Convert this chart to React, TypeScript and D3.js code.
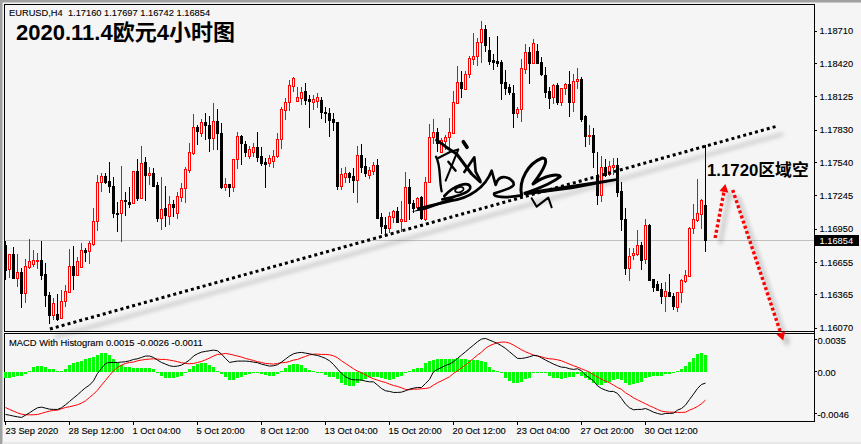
import React from "react";
import * as d3 from "d3";

const BASE_PRICE = 1.16; // candle arrays are in points (0.00001) above this price
const highPts = [846,728,787,728,600,680,858,763,733,846,645,393,339,372,408,452,772,799,704,822,778,846,1133,1430,1445,1445,1548,1415,1193,1510,1279,1320,1468,1569,1690,1587,1498,1489,1371,1409,1332,1243,1208,1282,1356,1504,1711,1973,1875,1928,1982,1955,2070,2017,1893,1404,1350,1573,1813,1786,1733,1688,1715,1813,1679,1582,1608,1653,1804,2035,2115,2275,2302,2213,2213,2248,2141,2141,2157,2126,2037,2028,1978,1901,1489,1498,1459,1489,1688,1705,1578,1498,1548,1572,1089,1059,1104,1119,1142,1199,1459,1394,1208,1237,1243,1415,1883,1925,1845,1756,1785,1933,2179,2399,2355,2355,2488,2696,2645,2799,2764,2660,2506,2666,2453,2364,2239,2230,2032,2458,2595,2565,2639,2595,2482,2393,2210,2239,2245,2201,2251,2355,2325,2378,2304,1964,1875,1845,1638,1599,1569,1558,1578,1578,1371,1134,778,778,941,838,1036,995,506,491,467,482,547,384,393,503,586,965,1172,1392,1214,1697];
const lowPts = [496,511,505,431,250,295,597,615,597,496,259,108,141,135,153,259,393,408,532,603,656,639,799,935,1282,1347,1267,1045,926,837,1065,1133,1169,1199,1222,1202,1341,1326,1015,941,965,985,1059,1039,1193,1184,1445,1608,1697,1768,1742,1635,1653,1653,1306,1288,1235,1279,1484,1519,1590,1573,1590,1546,1510,1315,1502,1493,1582,1662,1919,1999,2168,2079,2053,2053,1851,2008,2023,1925,1889,1771,1821,1296,1296,1362,1356,1273,1184,1445,1415,1391,1430,1050,905,882,917,1000,1006,926,1015,1030,1089,1133,1030,1024,1362,1705,1637,1622,1652,1658,1794,2067,2112,2192,2290,2408,2402,2429,2527,2408,2364,2387,2097,2141,2141,1851,1934,1904,2328,2239,2414,2423,2313,2118,2017,2061,2053,2047,2141,1949,1993,2192,1904,1682,1697,1489,1163,1193,1409,1421,1430,1237,935,541,491,675,710,586,639,497,393,402,283,215,349,230,215,295,467,520,906,1015,947,742];
const openPts = [808,591,728,517,568,384,615,642,668,674,547,363,182,194,156,307,393,618,544,609,766,751,816,1018,1365,1421,1373,1332,1092,1089,1208,1190,1178,1465,1228,1542,1433,1445,1341,1051,1136,1068,1169,1089,1237,1311,1477,1626,1857,1804,1902,1875,1759,1910,1804,1324,1350,1324,1573,1777,1706,1599,1635,1679,1599,1546,1537,1555,1599,1750,2008,2079,2222,2088,2115,2177,2103,2082,2091,2096,1993,1984,1925,1901,1332,1409,1445,1421,1385,1608,1510,1433,1468,1519,1053,985,962,1059,1110,1018,1024,1326,1178,1145,1231,1042,1371,1765,1812,1637,1732,1765,1806,2073,2254,2198,2325,2464,2491,2616,2725,2541,2453,2444,2432,2257,2210,2156,1984,2014,2373,2521,2423,2533,2435,2319,2177,2127,2227,2082,2201,2239,2082,2263,2284,1955,1780,1789,1430,1252,1501,1436,1504,1519,1288,1039,600,719,731,808,680,983,503,464,414,357,393,357,260,393,488,532,956,1030,1083,1160];
const closePts = [585,725,514,565,384,618,662,671,674,544,360,182,295,153,307,402,618,544,662,760,748,822,1018,1365,1421,1371,1335,1089,1086,1205,1202,1175,1462,1228,1533,1433,1445,1335,1051,1125,1077,1169,1148,1243,1311,1483,1631,1857,1822,1902,1875,1759,1910,1804,1324,1350,1324,1573,1777,1715,1635,1662,1679,1590,1537,1528,1582,1599,1750,2017,2079,2230,2293,2124,2168,2097,2086,2103,2126,1993,1978,1919,1901,1332,1439,1445,1409,1385,1608,1504,1445,1474,1519,1050,979,962,1065,1113,1015,1036,1320,1178,1133,1222,1045,1365,1765,1812,1711,1741,1765,1809,2076,2253,2207,2325,2467,2491,2616,2725,2589,2447,2438,2429,2251,2207,2171,1984,2014,2378,2521,2423,2601,2429,2325,2171,2118,2227,2082,2201,2236,2082,2263,2281,1928,1780,1786,1638,1252,1501,1430,1510,1516,1282,1036,600,710,734,805,675,983,497,432,408,357,396,357,266,390,494,538,959,1036,1089,1208,854];

// MACD arrays are in units of 0.0001
const macdHist = [-7.3,-6.6,-5.8,-5.1,-4.7,-2.9,1.1,4.7,6.2,6.2,4.7,3.3,2.6,0.7,1.1,2.6,7.3,9.1,11,12,13.5,14.6,15.7,18.3,20.1,20.1,18.3,13.5,9.9,7.3,5.5,4.7,3.7,3.7,3.7,3.7,3.7,2.6,-0.7,-4.7,-6.6,-7.3,-7.3,-6.2,-4.7,-1.1,2.6,6.2,8.4,9.1,9.1,7.3,4.7,1.1,-2.6,-6.2,-9.1,-9.1,-7.3,-5.5,-4,-2.9,-1.8,-1.1,-2.6,-3.7,-4.4,-4.4,-2.6,1.1,3.7,6.9,8.4,8.4,7.3,3.7,1.8,0.7,-0.3,-1.5,-3.7,-5.5,-6.2,-8.4,-12.8,-14.6,-15.7,-15.3,-12.8,-9.9,-8.4,-6.2,-5.5,-6.2,-7.3,-8.4,-9.1,-8,-6.2,-4.7,-1.8,1.1,2.6,3.7,3.7,9.1,12,12.8,13.5,13.9,13.9,13.5,13.5,14.6,14.2,13.5,12.8,12.8,12.8,12,11,5.5,1.8,0.4,-1.8,-7.3,-9.9,-12,-12.8,-11,-8.4,-6.6,-1.8,-0.7,-0.3,-1.1,-4.7,-6.6,-7.3,-7.7,-7.3,-6.2,-5.5,-2.6,-4.7,-7.3,-9.1,-12.8,-14.6,-14.6,-12.8,-11,-9.1,-8,-9.1,-12,-14.6,-13.5,-12,-11,-7.3,-5.5,-4.7,-4.4,-4.4,-2.6,-2.6,-1.8,1.1,2.6,6.2,10.2,15.3,19,20.1,18.3];
const macdLine = [-46.7,-47.5,-48.5,-49.3,-50,-47.5,-44.9,-42,-39.4,-38.7,-39.8,-40.9,-41.2,-41.2,-39.4,-36.1,-32.5,-28.8,-25.2,-21.2,-17.5,-14.6,-9.9,-1.8,3.7,9.1,10.2,10.2,10.2,10.6,11,12,13.5,14.2,15.7,17.2,17.2,15.7,12.8,10.2,8.4,6.6,5.8,6.2,7.3,9.9,12.8,17.2,19.7,21.5,22.3,23,23.7,23,19.3,14.6,10.2,11,11.7,11.7,11.7,11.3,10.6,9.9,8.4,7.3,6.2,6.6,7.7,10.6,13.9,17.2,19.7,20.8,21.2,20.4,19.7,18.6,17.9,16.4,14.6,12,8,2.9,-1.8,-5.5,-7.7,-8.8,-8.8,-9.1,-10.2,-11,-11,-14.6,-18.3,-20.8,-21.5,-22.6,-22.6,-22.3,-20.8,-19,-17.9,-17.2,-17.2,-12.8,-8.4,0,2.6,4.7,6.9,8.4,11,14.6,18.3,21.9,25.6,29.2,32.9,35.8,36.5,34.7,32.9,31,28.5,25.6,21.9,18.3,14.6,14.6,15.3,16.4,17.9,17.5,15.3,12.8,10.6,8.4,6.6,5.1,4.7,3.3,2.6,3.3,1.1,-3.7,-6.6,-9.9,-15.3,-18.3,-20.1,-21.5,-21.5,-23.7,-29.2,-35.4,-39.4,-41.6,-41.2,-41.2,-40.2,-42,-44.2,-45.6,-46.7,-45.6,-45.6,-45.3,-42,-40.2,-36.5,-30.3,-24.5,-18.3,-13.9,-12.4];
const signalLine = [-39.1,-41.2,-43.1,-44.9,-46.4,-47.1,-47.1,-47.1,-46.7,-45.6,-44.2,-43.1,-42.3,-42,-40.5,-39.1,-38.3,-37.2,-36.1,-34.3,-31.8,-28.1,-24.5,-20.1,-14.6,-9.5,-4,1.1,4.7,7.3,9.1,10.2,10.6,12,12.8,13.5,13.9,14.2,13.9,13.5,13.5,12.8,12,11,9.9,9.1,8.8,9.1,10.2,11.3,13.1,15,17.2,19,19.3,20.1,19.3,18.3,17.2,16.1,14.6,13.5,12.4,11,10.2,9.1,8.8,8.4,9.1,9.9,10.2,11.3,12.8,13.5,15.3,16.8,18.6,19.3,19.3,19,19,18.6,17.5,15.3,12,9.1,6.2,3.3,0.7,-1.1,-3.3,-5.8,-7.7,-9.1,-10.6,-11.7,-13.5,-15,-16.1,-17.5,-19.3,-19.7,-19,-19,-18.6,-18.3,-17.5,-14.6,-12,-9.9,-7.7,-5.5,-1.8,1.1,4.4,7.3,11,14.6,18.3,21.5,25.6,28.5,30.3,31.8,32.5,32.5,31.4,29.2,26.6,24.1,21.9,20.1,18.3,17.2,16.4,15,14.2,13.9,13.1,12,10.2,8.4,6.6,5.1,3.3,1.5,-0.4,-3.3,-5.8,-8,-10.2,-12,-14.6,-17.2,-19.3,-23,-25.6,-28.5,-30.7,-32.9,-35,-37.2,-39.1,-41.2,-43.1,-43.8,-44.2,-44.2,-44.5,-44.5,-44.2,-42,-40.2,-38,-35,-31];

const priceTicks = [1.1871, 1.1842, 1.18125, 1.1783, 1.1754, 1.17245, 1.1695, 1.16655, 1.16365, 1.1607];
const macdTicks = [0.0035, 0, -0.0046];
const macdTickLabels = ["0.0035", "0.00", "-0.0046"];
const timeLabels = ["23 Sep 2020","28 Sep 12:00","1 Oct 04:00","5 Oct 20:00","8 Oct 12:00","13 Oct 04:00","15 Oct 20:00","20 Oct 12:00","23 Oct 04:00","27 Oct 20:00","30 Oct 12:00"];
const BARS_PER_LABEL = 16;
const lastPrice = 1.16854;
const headerText = "EURUSD,H4  1.17160 1.17697 1.16742 1.16854";
const macdTitle = "MACD With Histogram 0.0015 -0.0026 -0.0011";
const titleText = "2020.11.4欧元4小时图";
const noteText = "1.1720区域空";

// annotations as [bar index, price]
const trendLine: [number, number][] = [[11.1, 1.16061], [193.1, 1.17866]];
const arrowUp: [number, number][] = [[177.4, 1.1687], [179.6, 1.1728]];
const arrowDown: [number, number][] = [[181.8, 1.17297], [193.8, 1.16026]];

const signatureStrokes = [
  { d: "M95,30 L122,50 L155,72 L200,132 L226,156", w: 9 },
  { d: "M175,35 L186,52", w: 11 },
  { d: "M93,80 C108,105 102,150 110,184", w: 7 },
  { d: "M100,84 L135,66 L160,58 L122,152", w: 6 },
  { d: "M130,95 L152,122", w: 7 },
  { d: "M178,126 L208,82 L212,125 L226,152", w: 8 },
  { d: "M118,198 C150,162 190,155 196,170 C200,190 135,205 112,208", w: 8 },
  { d: "M150,180 C160,165 180,170 175,180 C168,190 150,190 150,180", w: 5 },
  { d: "M40,236 L140,212 C190,205 240,175 260,122 L272,165 C282,125 322,145 326,160 C330,172 300,180 268,190 C262,202 300,205 350,196", w: 8 },
  { d: "M350,196 C340,150 370,100 412,84 C432,84 422,112 384,162 C420,135 460,130 466,140 C430,168 385,180 360,190", w: 9 },
  { d: "M380,205 L395,230 L430,203 L440,232", w: 6 },
];
const signatureWedges = [
  "M18,246 L140,203 L150,208 L60,240 Z",
  "M355,186 L640,144 L636,152 L500,178 L362,196 Z",
];

const xBar = d3.scaleLinear().domain([0, 175]).range([5.5, 705.5]);
const yPrice = d3.scaleLinear().domain([1.1607, 1.1871]).range([328, 31]);
const yMacd = d3.scaleLinear().domain([-0.0046, 0.0035]).range([413.8, 339.8]);

const lineOf = (vals: number[]) =>
  d3.line<number>().x((_, i) => xBar(i)).y((v) => yMacd(v * 1e-4)).curve(d3.curveLinear)(vals) || "";

const FONT = "'Liberation Sans', Arial, sans-serif";
const CJK = "'Liberation Sans', 'Noto Sans CJK SC', sans-serif";
const BG = "#f5f5f5";
const RED = "#ff0000";
const GREEN = "#00ff00";

function DottedArrow({ pts }: { pts: [number, number][] }) {
  const x1 = xBar(pts[0][0]), y1 = yPrice(pts[0][1]);
  const x2 = xBar(pts[1][0]), y2 = yPrice(pts[1][1]);
  const len = Math.hypot(x2 - x1, y2 - y1);
  const ux = (x2 - x1) / len, uy = (y2 - y1) / len;
  const tip = [x2 + ux * 8, y2 + uy * 8];
  const a = [x2 - uy * 4.5, y2 + ux * 4.5];
  const b = [x2 + uy * 4.5, y2 - ux * 4.5];
  const head = `${tip[0]},${tip[1]} ${a[0]},${a[1]} ${b[0]},${b[1]}`;
  return (
    <g>
      <g transform="translate(5,6)" filter="url(#shadow)" opacity={0.4}>
        <line x1={x1} y1={y1} x2={x2} y2={y2} stroke="#777" strokeWidth={3.5} />
        <polygon points={head} fill="#777" />
      </g>
      <line x1={x1} y1={y1} x2={x2} y2={y2} stroke={RED} strokeWidth={3.4} strokeDasharray="3 2.4" />
      <polygon points={head} fill={RED} />
    </g>
  );
}

export default function App() {
  const timeTickIdx = timeLabels.map((_, k) => k * BARS_PER_LABEL);
  const bars = openPts.map((o, i) => ({
    o: BASE_PRICE + o / 1e5,
    h: BASE_PRICE + highPts[i] / 1e5,
    l: BASE_PRICE + lowPts[i] / 1e5,
    c: BASE_PRICE + closePts[i] / 1e5,
  }));
  const yLast = Math.round(yPrice(lastPrice)) + 0.5;
  const tlx1 = xBar(trendLine[0][0]), tly1 = yPrice(trendLine[0][1]);
  const tlx2 = xBar(trendLine[1][0]), tly2 = yPrice(trendLine[1][1]);
  const axisText = { stroke: "#000", strokeWidth: 0.12 };
  return (
    <svg width={861} height={444} viewBox="0 0 861 444" style={{ position: "fixed", left: 0, top: 0, display: "block" }}>
      <defs>
        <filter id="shadow" x="-20%" y="-50%" width="140%" height="200%">
          <feGaussianBlur stdDeviation="2.2" />
        </filter>
      </defs>
      <rect width={861} height={444} fill={BG} />
      <rect x={0} y={0} width={861} height={2.5} fill="#a0a0a0" />
      <rect x={0} y={0} width={2.5} height={444} fill="#a0a0a0" />
      <rect x={2.5} y={442} width={859} height={2} fill="#e8e8e8" />

      {/* frames */}
      <g stroke="#000" strokeWidth={1} shapeRendering="crispEdges" fill="none">
        <line x1={4} x2={814} y1={4.5} y2={4.5} />
        <line x1={4.5} x2={4.5} y1={4} y2={331} />
        <line x1={4} x2={814} y1={331.5} y2={331.5} />
        <line x1={4} x2={814} y1={333.5} y2={333.5} />
        <line x1={4.5} x2={4.5} y1={333} y2={421} />
        <line x1={4} x2={814} y1={421.5} y2={421.5} />
        <line x1={814.5} x2={814.5} y1={4} y2={422} />
      </g>

      {/* current price line */}
      <line x1={5} x2={814} y1={yLast} y2={yLast} stroke="#c0c0c0" shapeRendering="crispEdges" />

      {/* candles */}
      <g shapeRendering="crispEdges">
        {bars.map((b, i) => {
          const up = b.c >= b.o;
          const color = up ? RED : "#000";
          const cx = xBar(i);
          const top = Math.round(yPrice(Math.max(b.o, b.c)));
          const bot = Math.round(yPrice(Math.min(b.o, b.c)));
          return (
            <g key={i}>
              <line x1={cx} x2={cx} y1={yPrice(b.h)} y2={yPrice(b.l)} stroke={color} />
              <rect
                x={cx - 1}
                y={top + 0.5}
                width={2}
                height={Math.max(bot - top, 1)}
                fill={up ? BG : "#000"}
                stroke={color}
              />
            </g>
          );
        })}
      </g>

      {/* trend line */}
      <g transform="translate(5,8)" filter="url(#shadow)" opacity={0.3}>
        <line x1={tlx1} y1={tly1} x2={tlx2} y2={tly2} stroke="#666" strokeWidth={3.5} />
      </g>
      <line x1={tlx1} y1={tly1} x2={tlx2} y2={tly2} stroke="#000" strokeWidth={3} strokeDasharray="3 3.1" />

      {/* signature */}
      <g transform="translate(405,130) scale(0.3333)" fill="none" stroke="#000" strokeLinecap="round" strokeLinejoin="round">
        {signatureStrokes.map((s, i) => (
          <path key={i} d={s.d} strokeWidth={s.w} />
        ))}
        {signatureWedges.map((d, i) => (
          <path key={i} d={d} fill="#000" stroke="none" />
        ))}
      </g>

      {/* MACD */}
      <g shapeRendering="crispEdges">
        {macdHist.map((v, i) => {
          const y0 = yMacd(0), y1 = yMacd(v * 1e-4);
          return <rect key={i} x={xBar(i) - 1.5} y={Math.min(y0, y1)} width={3} height={Math.max(Math.abs(y1 - y0), 1)} fill={GREEN} />;
        })}
      </g>
      <path d={lineOf(signalLine)} fill="none" stroke={RED} strokeWidth={1} />
      <path d={lineOf(macdLine)} fill="none" stroke="#000" strokeWidth={1} />

      {/* arrows above panel frame */}
      <DottedArrow pts={arrowUp} />
      <DottedArrow pts={arrowDown} />

      {/* headers */}
      <text x={9} y={16} fontFamily={FONT} fontSize={9.3} fill="#000" xmlSpace="preserve" {...axisText}>{headerText}</text>
      <text x={16} y={40} fontFamily={CJK} fontSize={22} fontWeight={700} fill="#000">{titleText}</text>
      <text x={707} y={176} fontFamily={CJK} fontSize={16.8} fontWeight={700} fill="#000">{noteText}</text>
      <text x={9} y={346} fontFamily={FONT} fontSize={9.4} fill="#000" {...axisText}>{macdTitle}</text>

      {/* price axis */}
      <g fontFamily={FONT} fontSize={9.3} fill="#000" {...axisText}>
        {priceTicks.map((p) => {
          const y = yPrice(p);
          return (
            <g key={p}>
              <line x1={814} x2={817} y1={y} y2={y} stroke="#000" strokeWidth={1} shapeRendering="crispEdges" />
              <text x={819.5} y={y + 3.4}>{p.toFixed(5)}</text>
            </g>
          );
        })}
        {macdTicks.map((m, i) => {
          const y = yMacd(m);
          return (
            <g key={m}>
              <line x1={814} x2={817} y1={y} y2={y} stroke="#000" strokeWidth={1} shapeRendering="crispEdges" />
              <text x={817.5} y={y + 3.8}>{macdTickLabels[i]}</text>
            </g>
          );
        })}
      </g>
      <rect x={815} y={235} width={44} height={11} fill="#000" />
      <text x={819.5} y={243.8} fontFamily={FONT} fontSize={9.3} fill="#fff">{lastPrice.toFixed(5)}</text>

      {/* time axis */}
      <g fontFamily={FONT} fontSize={9.3} fill="#000" {...axisText}>
        {timeTickIdx.map((idx, k) => {
          const x = xBar(idx);
          return (
            <g key={idx}>
              <line x1={x} x2={x} y1={421} y2={425} stroke="#000" strokeWidth={1} shapeRendering="crispEdges" />
              <text x={k === 0 ? x : x - 1} y={434}>{timeLabels[k]}</text>
            </g>
          );
        })}
      </g>
    </svg>
  );
}
